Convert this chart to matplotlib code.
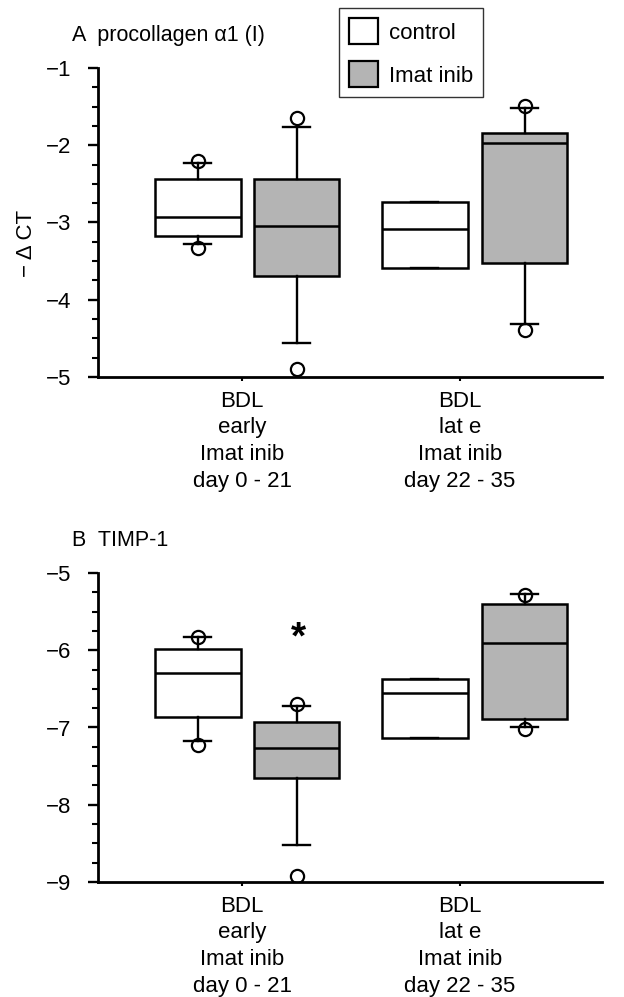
import matplotlib
matplotlib.use('Agg')
import matplotlib.pyplot as plt
from matplotlib.patches import Patch
from matplotlib.ticker import MultipleLocator

plt.rcParams['font.family'] = ['Liberation Sans', 'DejaVu Sans']

groups = ['BDL\nearly\nImat inib\nday 0 - 21', 'BDL\nlat e\nImat inib\nday 22 - 35']
series = ['control', 'Imat inib']
colors = ['white', '#b4b4b4', 'white', '#b4b4b4']

# box order: early control, early imatinib, late control, late imatinib
# panel A: procollagen alpha1 (I)
a_q1 = [-3.18, -3.69, -3.59, -3.53]
a_med = [-2.93, -3.05, -3.09, -1.97]
a_q3 = [-2.44, -2.44, -2.74, -1.84]
a_lo = [-3.28, -4.56, -3.59, -4.31]
a_hi = [-2.23, -1.77, -2.74, -1.52]
a_out = [[-2.21, -3.33], [-1.65, -4.89], [], [-1.49, -4.39]]

# panel B: TIMP-1
b_q1 = [-6.87, -7.65, -7.14, -6.89]
b_med = [-6.30, -7.27, -6.55, -5.90]
b_q3 = [-5.99, -6.93, -6.37, -5.40]
b_lo = [-7.18, -8.52, -7.14, -6.99]
b_hi = [-5.83, -6.72, -6.37, -5.27]
b_out = [[-5.83, -7.23], [-6.69, -8.92], [], [-5.28, -7.02]]

box_pos = [-0.202, 0.25, 0.839, 1.296]

W, H = 624, 997
fig = plt.figure(figsize=(W / 100, H / 100), dpi=100)
FS = 16


def panel(top_px, q1, med, q3, lo, hi, out, ylim, title):
    ax = fig.add_axes([98 / W, 1 - (top_px + 309) / H, 504 / W, 309 / H])
    stats = []
    for i in range(4):
        stats.append(dict(q1=q1[i], med=med[i], q3=q3[i], whislo=lo[i],
                          whishi=hi[i], fliers=out[i]))
    bp = ax.bxp(stats, positions=box_pos, widths=0.394, capwidths=0.124,
                patch_artist=True, manage_ticks=False,
                boxprops=dict(edgecolor='black', linewidth=1.8),
                medianprops=dict(color='black', linewidth=1.8),
                whiskerprops=dict(color='black', linewidth=1.7),
                capprops=dict(color='black', linewidth=1.7),
                flierprops=dict(marker='o', markersize=9.5, markerfacecolor='none',
                                markeredgecolor='black', markeredgewidth=1.6))
    for b, c in zip(bp['boxes'], colors):
        b.set_facecolor(c)
    ax.set_xlim(-0.6606, 1.6514)
    ax.set_ylim(*ylim)
    ax.yaxis.set_major_locator(MultipleLocator(1))
    ax.yaxis.set_minor_locator(MultipleLocator(0.25))
    ax.set_xticks([0, 1])
    ax.set_xticklabels(groups, fontsize=FS, linespacing=1.35)
    ax.tick_params(axis='y', which='major', length=7, width=1.7, labelsize=FS, pad=12)
    ax.tick_params(axis='y', which='minor', length=4.3, width=1.5)
    ax.tick_params(axis='x', length=3, width=1.5, pad=7)
    for s in ['top', 'right']:
        ax.spines[s].set_visible(False)
    for s in ['left', 'bottom']:
        ax.spines[s].set_linewidth(2.0)
    fig.text(72 / W, 1 - (top_px - 27) / H, title, fontsize=15.5, va='baseline')
    return ax


axA = panel(68, a_q1, a_med, a_q3, a_lo, a_hi, a_out, (-5, -1), 'A  procollagen \u03b11 (I)')
axB = panel(573, b_q1, b_med, b_q3, b_lo, b_hi, b_out, (-9, -5), 'B  TIMP-1')

fig.text(27 / W, 1 - 243 / H, '\u2212 \u0394 CT', rotation=90, fontsize=FS,
         ha='center', va='center')
axB.text(0.257, -5.85, '*', fontsize=28, ha='center', va='center', fontweight='bold')

leg = fig.legend(handles=[Patch(facecolor='white', edgecolor='black', linewidth=1.6),
                          Patch(facecolor='#b4b4b4', edgecolor='black', linewidth=1.6)],
                 labels=series, loc='upper left', bbox_to_anchor=(339 / W, 1 - 8 / H),
                 fontsize=FS, frameon=True, fancybox=False, edgecolor='black',
                 handlelength=1.3, handleheight=1.45, labelspacing=0.75,
                 borderpad=0.45, handletextpad=0.5, borderaxespad=0)
leg.get_frame().set_linewidth(1.0)

fig.savefig('out.png', dpi=100)
